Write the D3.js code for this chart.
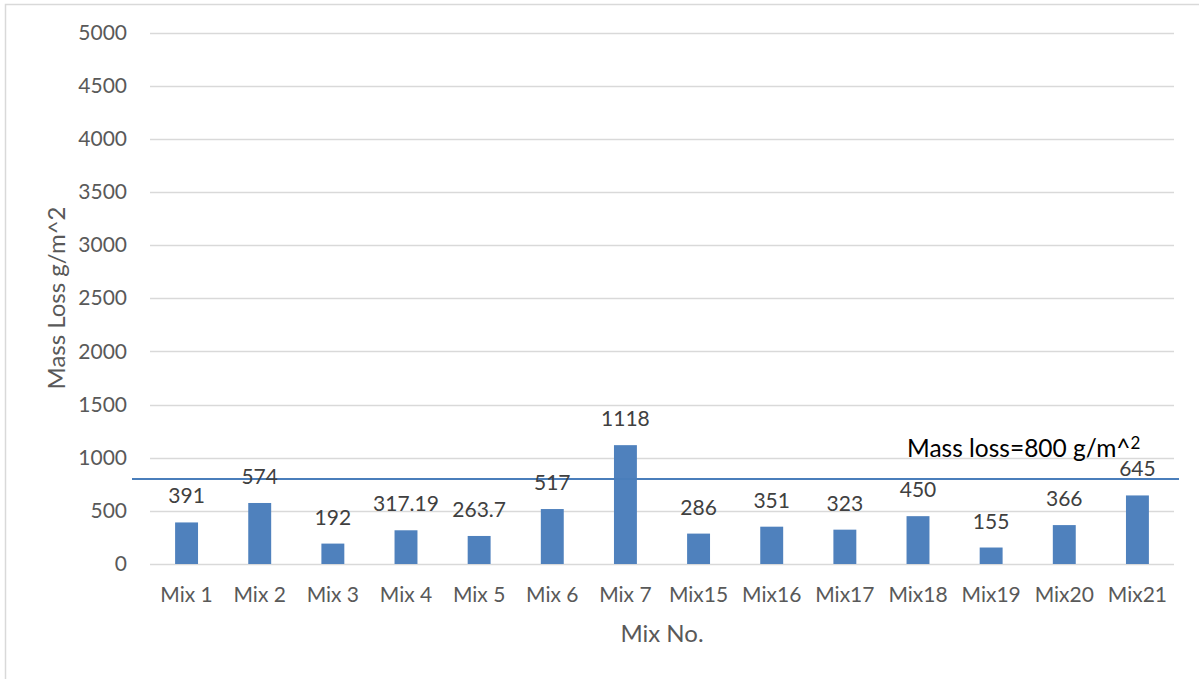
<!DOCTYPE html>
<html>
<head>
<meta charset="utf-8">
<script src="https://cdn.jsdelivr.net/npm/d3@7"></script>
<style>
  html, body { margin: 0; padding: 0; background: #ffffff; }
  svg { display: block; }
  text { font-family: Lato, "Open Sans", sans-serif; }
</style>
</head>
<body>
<svg id="chart" width="1199" height="679"></svg>
<script>
// Mass loss per mix
const categories = ["Mix 1", "Mix 2", "Mix 3", "Mix 4", "Mix 5", "Mix 6", "Mix 7",
                    "Mix15", "Mix16", "Mix17", "Mix18", "Mix19", "Mix20", "Mix21"];
const massLoss = [391, 574, 192, 317.19, 263.7, 517, 1118, 286, 351, 323, 450, 155, 366, 645];
const valueLabels = ["391", "574", "192", "317.19", "263.7", "517", "1118",
                     "286", "351", "323", "450", "155", "366", "645"];
const yTicks = [0, 500, 1000, 1500, 2000, 2500, 3000, 3500, 4000, 4500, 5000];
const limitValue = 800;
const limitLabel = "Mass loss=800 g/m^";
const limitLabelSup = "2";
const yTitle = "Mass Loss g/m^2";
const xTitle = "Mix No.";

const svg = d3.select("#chart");
const W = 1199, H = 679;
const plot = { left: 150, right: 1174, top: 32.5, bottom: 564 };

// chart frame
svg.append("rect")
  .attr("x", 5.5).attr("y", 4.5)
  .attr("width", W + 10).attr("height", H + 10)
  .attr("fill", "#ffffff").attr("stroke", "#d9d9d9").attr("stroke-width", 1.5);

const x = d3.scaleBand().domain(categories).range([plot.left, plot.right]).padding(0);
const y = d3.scaleLinear().domain([0, 5000]).range([plot.bottom, plot.top]);
const barW = x.bandwidth() / 3.19;

// gridlines
svg.append("g").selectAll("line").data(yTicks).join("line")
  .attr("x1", plot.left).attr("x2", plot.right)
  .attr("y1", d => Math.round(y(d)) + 0.5).attr("y2", d => Math.round(y(d)) + 0.5)
  .attr("stroke", "#d9d9d9").attr("stroke-width", 1.5);

// y axis tick labels
const yAxis = d3.axisLeft(y).tickValues(yTicks).tickSize(0).tickPadding(0).tickFormat(d3.format("d"));
const gy = svg.append("g").attr("transform", `translate(127,0)`).call(yAxis);
gy.select(".domain").remove();
gy.selectAll("text")
  .attr("fill", "#595959").style("font-size", "21px").style("font-family", "Lato, sans-serif");

// x axis category labels
const xAxis = d3.axisBottom(x).tickSize(0).tickPadding(0);
const gx = svg.append("g").attr("transform", `translate(0,${plot.bottom})`).call(xAxis);
gx.select(".domain").remove();
gx.selectAll("text")
  .attr("dy", null).attr("y", 38)
  .attr("fill", "#595959").style("font-size", "21px").style("font-family", "Lato, sans-serif");

// bars
svg.append("g").selectAll("rect").data(massLoss).join("rect")
  .attr("x", (d, i) => x(categories[i]) + x.bandwidth() / 2 - barW / 2)
  .attr("width", barW)
  .attr("y", d => y(d))
  .attr("height", d => y(0) - y(d))
  .attr("fill", "#4f81bd");

// threshold line
svg.append("line")
  .attr("x1", 132).attr("x2", 1179)
  .attr("y1", y(limitValue)).attr("y2", y(limitValue))
  .attr("stroke", "#4a7ebb").attr("stroke-width", 2);

// value labels
svg.append("g").selectAll("text").data(massLoss).join("text")
  .attr("x", (d, i) => x(categories[i]) + x.bandwidth() / 2)
  .attr("y", d => y(d) - 19)
  .attr("text-anchor", "middle")
  .attr("fill", "#404040").style("font-size", "21px")
  .text((d, i) => valueLabels[i]);

// threshold annotation
const ann = svg.append("text")
  .attr("x", 907).attr("y", 457)
  .attr("fill", "#000000").style("font-size", "24.5px");
ann.append("tspan").text(limitLabel);
ann.append("tspan").attr("dy", -8).style("font-size", "17px").text(limitLabelSup);

// axis titles
svg.append("text")
  .attr("transform", `translate(65,298) rotate(-90)`)
  .attr("text-anchor", "middle")
  .attr("fill", "#595959").style("font-size", "24px")
  .text(yTitle);

svg.append("text")
  .attr("x", (plot.left + plot.right) / 2).attr("y", 642)
  .attr("text-anchor", "middle")
  .attr("fill", "#595959").style("font-size", "24px")
  .text(xTitle);
</script>
</body>
</html>
